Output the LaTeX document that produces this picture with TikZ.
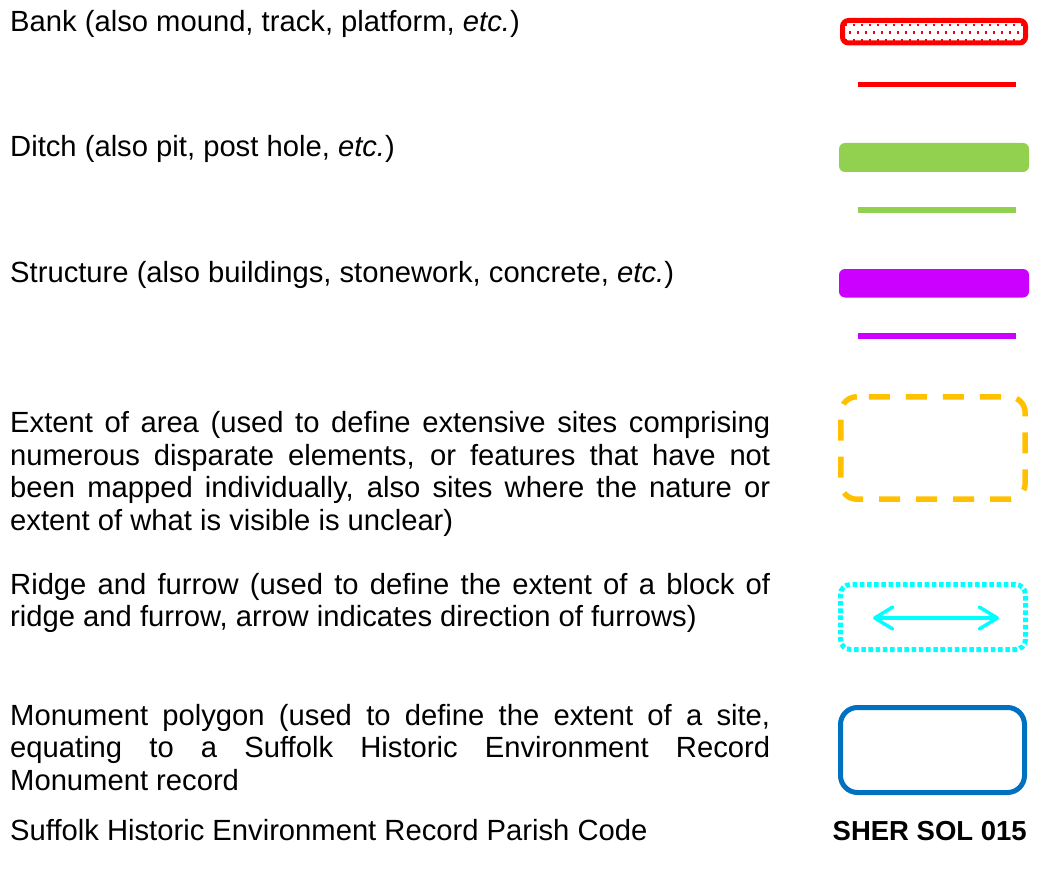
\documentclass[tikz,border=0pt]{standalone}
\usepackage{fontspec}
\setmainfont{Liberation Sans}
\usetikzlibrary{arrows.meta}
\hyphenpenalty=10000
\exhyphenpenalty=10000
\definecolor{bankred}{HTML}{FF0000}
\definecolor{ditchgreen}{HTML}{92D050}
\definecolor{structmag}{HTML}{CC00FF}
\definecolor{extorange}{HTML}{FFC000}
\definecolor{ridgecyan}{HTML}{00FFFF}
\definecolor{monblue}{HTML}{0070C0}
\tikzset{
  label1/.style={anchor=base west, inner sep=0pt, font=\fontsize{29.2}{32.5}\selectfont},
  para/.style={anchor=north west, inner sep=0pt, text width=760pt, align=justify,
     font=\fontsize{29.2}{32.5}\selectfont},
  symline/.style={line width=5.5pt},
  fillbox/.style={rectangle, draw=none, rounded corners=6pt, minimum width=190pt, inner sep=0pt},
  ghost/.style={rectangle, draw=none, inner sep=0pt},
}
\begin{document}
\begin{tikzpicture}[x=1pt,y=-1pt]
\useasboundingbox (0,0) rectangle (1045,872);

% ---- texts ----
\node[label1] (tbank) at (10,32) {Bank (also mound, track, platform, \textit{etc.})};
\node[label1] (tditch) at (10,157) {Ditch (also pit, post hole, \textit{etc.})};
\node[label1] (tstruct) at (10,282) {Structure (also buildings, stonework, concrete, \textit{etc.})};
\node[para] (textent) at (10,411.2) {Extent of area (used to define extensive sites comprising\linebreak numerous disparate elements, or features that have not\linebreak been mapped individually, also sites where the nature or\linebreak extent of what is visible is unclear)};
\node[para] (tridge) at (10,572.7) {Ridge and furrow (used to define the extent of a block of\linebreak ridge and furrow, arrow indicates direction of furrows)};
\node[para] (tmon) at (10,703.7) {Monument polygon (used to define the extent of a site,\linebreak equating to a Suffolk Historic Environment Record\linebreak Monument record};
\node[label1] (tcode) at (10,840) {Suffolk Historic Environment Record Parish Code};
\node[anchor=base east, inner sep=0pt, font=\fontsize{27.5}{32.5}\selectfont\bfseries] (sher) at (1027,840) {SHER SOL 015};

% ---- bank ----
\node[rectangle, draw=bankred, line width=5pt, rounded corners=6pt, minimum width=183pt, minimum height=22.5pt, inner sep=0pt] (bankbox) at (934,31.75) {};
\begin{scope}
  \clip (845,23) rectangle (1023,41);
  \foreach \i in {0,...,22} {
    \fill[bankred] (846+8*\i-1.2,25.2-1.2) rectangle ++(2.4,2.4);
    \fill[bankred] (850+8*\i-1.2,32.7-1.2) rectangle ++(2.4,2.4);
    \fill[bankred] (846+8*\i-1.2,39.8-1.2) rectangle ++(2.4,2.4);
  }
\end{scope}
\coordinate (bankA) at (858,84.5);
\coordinate (bankB) at (1016,84.5);
\draw[symline, bankred] (bankA) -- (bankB);

% ---- ditch ----
\node[fillbox, fill=ditchgreen, minimum height=29pt] (ditchbox) at (934,157.5) {};
\coordinate (ditchA) at (858,210);
\coordinate (ditchB) at (1016,210);
\draw[symline, ditchgreen] (ditchA) -- (ditchB);

% ---- structure ----
\node[fillbox, fill=structmag, minimum height=28.5pt] (structbox) at (934,283.25) {};
\coordinate (structA) at (858,336);
\coordinate (structB) at (1016,336);
\draw[symline, structmag] (structA) -- (structB);

% ---- extent ----
\node[ghost, minimum width=184pt, minimum height=102pt] (extbox) at (933,448) {};
\draw[extorange, line width=5.5pt, dash pattern=on 21pt off 16pt, dash phase=25pt, rounded corners=16pt]
  ([xshift=16pt]extbox.north west) -- (extbox.north east) -- (extbox.south east)
  -- (extbox.south west) -- (extbox.north west) -- ([xshift=16pt]extbox.north west);

% ---- ridge and furrow ----
\node[rectangle, draw=ridgecyan, line width=5pt, rounded corners=10pt, dash pattern=on 4.5pt off 2.7pt, minimum width=185pt, minimum height=65pt, inner sep=0pt] (ridgebox) at (933,617) {};
\coordinate (ridgeA) at (873,618);
\coordinate (ridgeB) at (999,618);
\draw[ridgecyan, line width=3.5pt, {Straight Barb[length=18pt,width=22pt,round]}-{Straight Barb[length=18pt,width=22pt,round]}] (ridgeA) -- (ridgeB);

% ---- monument ----
\node[rectangle, draw=monblue, line width=5pt, rounded corners=17pt, minimum width=184pt, minimum height=85pt, inner sep=0pt] (monbox) at (932.5,750) {};
\end{tikzpicture}
\end{document}
